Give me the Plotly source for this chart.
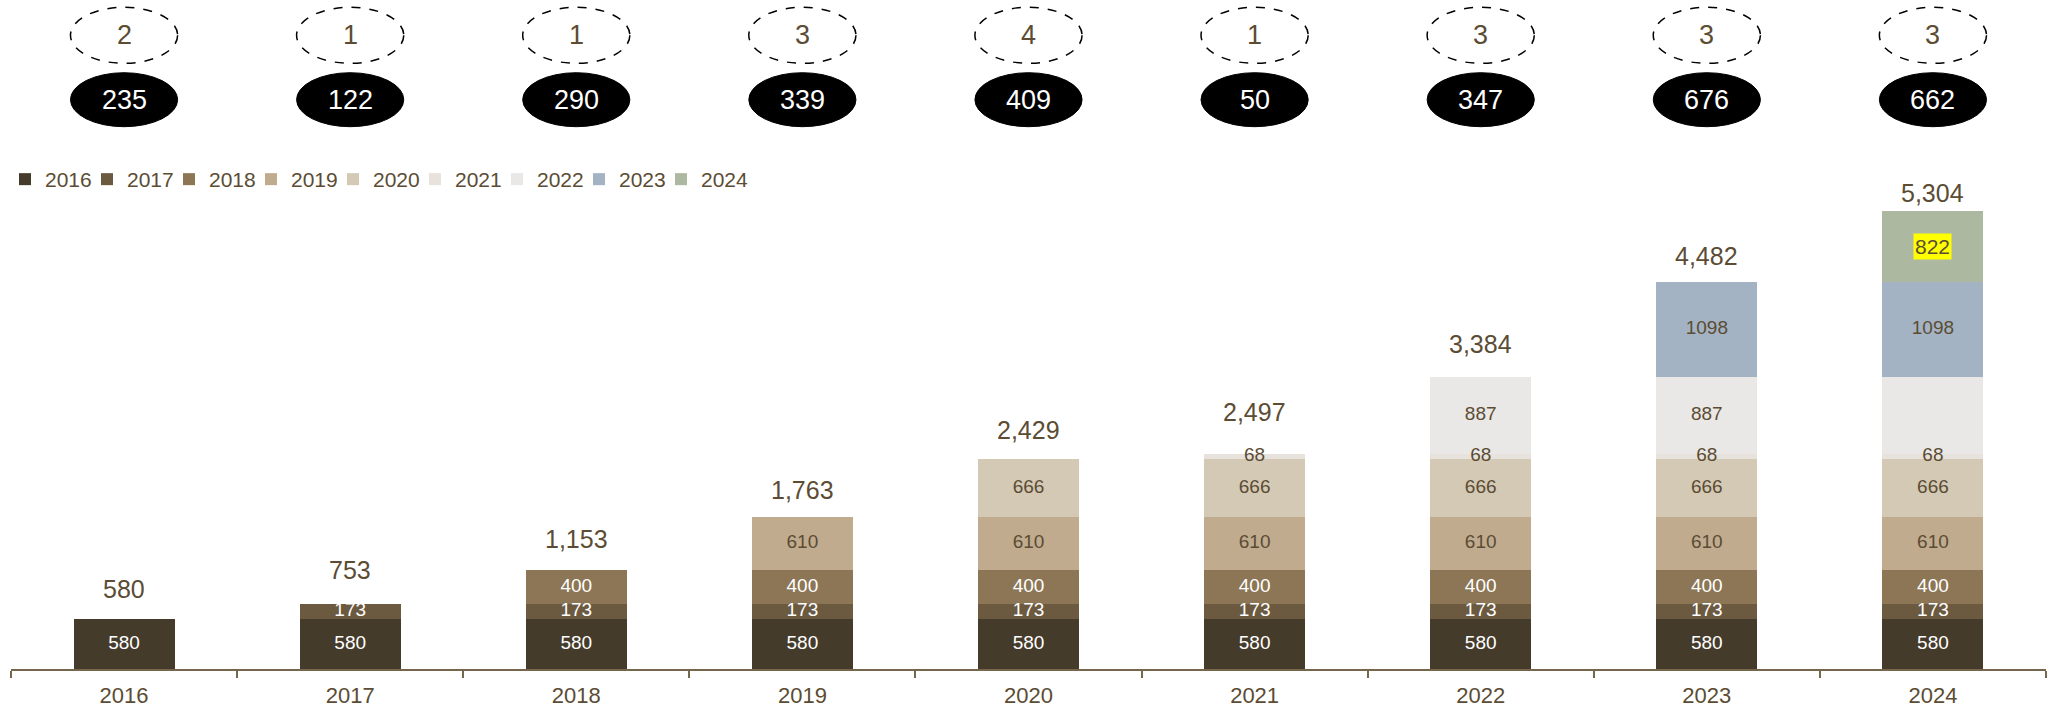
import plotly.graph_objects as go

# ---------------- data ----------------
categories = ["2016", "2017", "2018", "2019", "2020", "2021", "2022", "2023", "2024"]
series_names = ["2016", "2017", "2018", "2019", "2020", "2021", "2022", "2023", "2024"]

s2016 = [580, 580, 580, 580, 580, 580, 580, 580, 580]
s2017 = [None, 173, 173, 173, 173, 173, 173, 173, 173]
s2018 = [None, None, 400, 400, 400, 400, 400, 400, 400]
s2019 = [None, None, None, 610, 610, 610, 610, 610, 610]
s2020 = [None, None, None, None, 666, 666, 666, 666, 666]
s2021 = [None, None, None, None, None, 68, 68, 68, 68]
s2022 = [None, None, None, None, None, None, 887, 887, 887]
s2023 = [None, None, None, None, None, None, None, 1098, 1098]
s2024 = [None, None, None, None, None, None, None, None, 822]

dashed_counts = [2, 1, 1, 3, 4, 1, 3, 3, 3]
black_counts = [235, 122, 290, 339, 409, 50, 347, 676, 662]

# ---------------- style ----------------
colors = ["#453b2b", "#6b5a40", "#8c7655", "#c0ab8f", "#d3c9b5",
          "#e7e2dc", "#eae8e6", "#a3b3c3", "#adb8a0"]
inside_text_colors = ["white", "white", "white", "#5b4c33", "#5b4c33",
                      "#5b4c33", "#5b4c33", "#5b4c33", "#5b4c33"]
brown = "#5b4c33"
axis_color = "#76664b"
font_family = "Liberation Sans, Arial, sans-serif"

# label offsets above bar tops (px), as in the reference
total_label_offsets = [30, 34, 31, 27, 29, 42, 33, 26, 18]
# labels not shown inside bars: (series index, category index)
hidden_inside = {(6, 8), (8, 8)}
highlight = (8, 8)  # label with yellow box

all_series = [s2016, s2017, s2018, s2019, s2020, s2021, s2022, s2023, s2024]

W, H = 2055, 709
m_l, m_r, m_t, m_b = 11, 9, 0, 40
plot_h = H - m_t - m_b
plot_w = W - m_l - m_r
px_per_unit = 0.0863
y_max = plot_h / px_per_unit


def paper_y(py):
    return (H - m_b - py) / plot_h


fig = go.Figure()

# stacked bars
for si, (name, vals) in enumerate(zip(series_names, all_series)):
    fig.add_trace(go.Bar(
        name=name, x=categories, y=vals,
        marker=dict(color=colors[si], line=dict(width=0)),
        hoverinfo="skip",
    ))

# transparent spacer legend entry (keeps the last legend label from being clipped)
fig.add_trace(go.Bar(
    name=" ", x=[categories[0]], y=[0],
    marker=dict(color="rgba(0,0,0,0)", line=dict(width=0)),
    hoverinfo="skip",
))

# segment labels, drawn above all bars
lab_x = {"white": [], "dark": []}
lab_y = {"white": [], "dark": []}
lab_t = {"white": [], "dark": []}
for ci in range(len(categories)):
    base = 0
    for si, vals in enumerate(all_series):
        v = vals[ci]
        if v is None:
            continue
        if (si, ci) not in hidden_inside:
            key = "white" if inside_text_colors[si] == "white" else "dark"
            lab_x[key].append(categories[ci])
            lab_y[key].append(base + v / 2)
            lab_t[key].append(str(v))
        base += v

for key, col in (("white", "white"), ("dark", brown)):
    fig.add_trace(go.Scatter(
        x=lab_x[key], y=lab_y[key], text=lab_t[key], mode="text",
        textposition="middle center",
        textfont=dict(size=19, color=col, family=font_family),
        showlegend=False, hoverinfo="skip",
    ))

annotations = []
shapes = []

# totals on top of bars
totals = []
for ci in range(len(categories)):
    totals.append(sum(s[ci] for s in all_series if s[ci] is not None))
for ci, tot in enumerate(totals):
    annotations.append(dict(
        x=ci, y=tot, xref="x", yref="y", text=f"{tot:,}", showarrow=False,
        yanchor="middle", yshift=total_label_offsets[ci],
        font=dict(size=25, color=brown, family=font_family),
    ))

# highlighted label (yellow box)
hs, hc = highlight
base = sum(all_series[k][hc] for k in range(hs) if all_series[k][hc] is not None)
annotations.append(dict(
    x=hc, y=base + all_series[hs][hc] / 2, xref="x", yref="y",
    text=str(all_series[hs][hc]), showarrow=False, bgcolor="#ffff00",
    borderpad=1, font=dict(size=21, color=brown, family=font_family),
))

# ellipses at top
half_w = 0.237
for ci in range(len(categories)):
    shapes.append(dict(
        type="circle", xref="x", yref="paper",
        x0=ci - half_w, x1=ci + half_w,
        y0=paper_y(63.3), y1=paper_y(7.3),
        line=dict(color="black", width=1.5, dash="dash"),
        fillcolor="rgba(0,0,0,0)",
    ))
    shapes.append(dict(
        type="circle", xref="x", yref="paper",
        x0=ci - half_w, x1=ci + half_w,
        y0=paper_y(126.7), y1=paper_y(72.7),
        line=dict(color="black", width=1), fillcolor="black",
    ))
    annotations.append(dict(
        x=ci, y=paper_y(35.3), xref="x", yref="paper", text=str(dashed_counts[ci]),
        showarrow=False, yanchor="middle",
        font=dict(size=27, color=brown, family=font_family),
    ))
    annotations.append(dict(
        x=ci, y=paper_y(99.7), xref="x", yref="paper", text=str(black_counts[ci]),
        showarrow=False, yanchor="middle",
        font=dict(size=27, color="white", family=font_family),
    ))

fig.update_layout(
    width=W, height=H,
    margin=dict(l=m_l, r=m_r, t=m_t, b=m_b),
    paper_bgcolor="white", plot_bgcolor="white",
    barmode="stack", bargap=0.553,
    showlegend=True,
    legend=dict(
        orientation="h", x=-6 / plot_w, xanchor="left", y=paper_y(179.5), yanchor="middle",
        font=dict(size=21, color=brown, family=font_family),
        traceorder="normal", itemclick=False, itemdoubleclick=False,
        entrywidth=37, entrywidthmode="pixels", bgcolor="rgba(0,0,0,0)",
    ),
    xaxis=dict(
        type="category", showgrid=False, zeroline=False,
        range=[-0.5, len(categories) - 0.5], autorange=False,
        showline=True, linecolor=axis_color, linewidth=2,
        ticks="outside", tickson="boundaries", ticklen=7, tickwidth=2,
        tickcolor=axis_color, ticklabelstandoff=6,
        tickfont=dict(size=22, color=brown, family=font_family),
        fixedrange=True,
    ),
    yaxis=dict(visible=False, range=[0, y_max], autorange=False, fixedrange=True),
    shapes=shapes,
    annotations=annotations,
    font=dict(family=font_family),
)

fig.write_html("out.html")
